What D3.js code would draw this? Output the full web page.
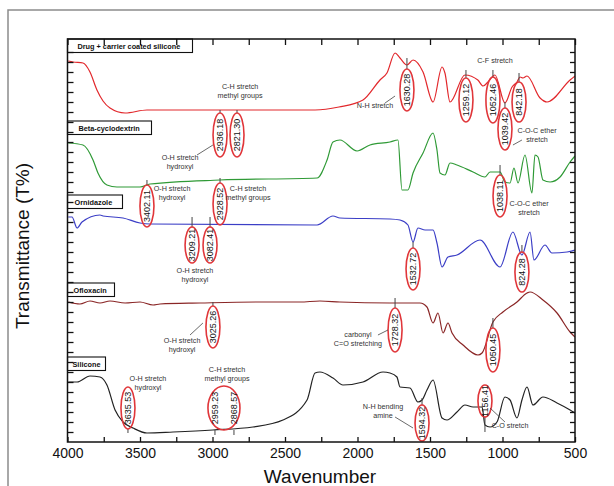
<!DOCTYPE html>
<html>
<head>
<meta charset="utf-8">
<script src="https://cdn.jsdelivr.net/npm/d3@7"></script>
<style>
  body { margin: 0; background: #fff; }
  svg { display: block; font-family: "Liberation Sans", Arial, sans-serif; }
</style>
</head>
<body>
<div id="chart"></div>
<script>
// Spectra: [wavenumber, offset transmittance]
const drugCarrier = [[3995,38.1],[3962,38.0],[3893,37.9],[3845,37.0],[3797,35.2],[3755,34.1],[3707,33.4],[3603,32.9],[3452,33.2],[2293,33.2],[2128,33.5],[1962,34.2],[1845,36.2],[1797,36.9],[1741,38.9],[1707,38.4],[1659,37.7],[1617,38.2],[1548,37.0],[1479,34.0],[1417,37.5],[1397,36.9],[1362,34.0],[1259,36.7],[1170,36.2],[1134,35.6],[1100,36.0],[1052,36.7],[983,33.9],[934,35.5],[900,36.0],[879,36.5],[859,36.4],[831,36.6],[741,34.4],[693,34.0],[534,36.2],[500,36.6]];
const betaCyclodextrin = [[3995,29.9],[3893,29.7],[3824,28.2],[3790,26.9],[3728,25.7],[3659,25.5],[3500,25.5],[3431,25.8],[2948,26.2],[2279,26.4],[2210,28.2],[2169,30.0],[2121,30.2],[2003,29.1],[1914,29.7],[1776,30.0],[1721,30.2],[1693,25.2],[1652,25.2],[1617,26.9],[1548,28.9],[1479,30.9],[1452,29.2],[1431,26.9],[1397,26.7],[1362,27.9],[1314,27.7],[1203,27.0],[1121,26.5],[1086,27.0],[1017,27.0],[983,26.0],[948,25.9],[921,27.4],[893,25.9],[845,28.7],[797,24.9],[776,28.7],[755,28.5],[721,26.2],[672,26.0],[603,26.5],[534,28.0],[500,28.6]];
const ornidazole = [[3995,22.5],[3969,22.5],[3934,21.4],[3900,22.0],[3776,22.7],[3755,22.6],[3617,22.4],[3500,21.9],[3431,21.8],[2279,21.7],[2169,22.6],[2121,22.4],[1776,22.3],[1707,22.2],[1652,21.7],[1617,20.0],[1583,21.4],[1534,21.2],[1479,21.2],[1452,19.9],[1417,17.5],[1376,18.5],[1314,18.7],[1155,20.2],[1017,17.5],[928,21.0],[866,18.7],[810,21.0],[783,18.2],[707,19.7],[659,18.9],[555,19.0],[500,19.2]];
const ofloxacin = [[3995,14.0],[3914,13.8],[3845,14.1],[3776,13.9],[3707,14.1],[3603,13.9],[3500,14.0],[3410,13.7],[3362,13.8],[3086,13.9],[2672,14.0],[2397,14.0],[2259,14.1],[2121,14.0],[1776,13.9],[1741,13.9],[1569,13.9],[1521,13.5],[1479,11.9],[1445,12.9],[1410,10.9],[1376,11.9],[1348,10.9],[1272,9.7],[1169,8.7],[1141,8.9],[1066,12.0],[997,13.0],[900,14.0],[831,14.9],[810,15.0],[721,14.2],[624,12.9],[534,11.0],[500,10.5]];
const silicone = [[3995,6.0],[3934,6.0],[3845,6.6],[3776,6.5],[3728,5.7],[3672,3.2],[3617,2.0],[3548,1.4],[3452,0.9],[3272,1.0],[2997,1.2],[2721,1.5],[2514,2.2],[2348,4.2],[2293,6.9],[2259,7.0],[2169,6.4],[2100,5.7],[1962,6.0],[1824,7.0],[1776,6.9],[1728,6.5],[1707,5.5],[1638,5.4],[1583,4.0],[1555,4.2],[1521,5.2],[1479,6.2],[1417,2.4],[1383,2.2],[1314,3.0],[1259,3.7],[1203,3.5],[1141,3.5],[1121,1.7],[1086,1.5],[1038,2.0],[983,4.5],[948,4.2],[900,2.4],[866,4.2],[831,5.5],[790,3.7],[721,4.5],[624,3.9],[534,3.2],[500,2.9]];

const seriesNames = ['Drug + carrier coated silicone', 'Beta-cyclodextrin', 'Ornidazole', 'Ofloxacin', 'Silicone'];
const xTickLabels = [4000, 3500, 3000, 2500, 2000, 1500, 1000, 500];

// Peak labels (text, wavenumber position, centre, tick from curve)
const peakLabels = [
  ['2936.18', 2948, 30.7, 22, 33.2, 32.9],
  ['2821.30', 2831, 30.7, 22, 33.2, 32.9],
  ['1630.28', 1659, 35.2, 21, 38.4, 37.3],
  ['1259.12', 1252, 34.2, 22, 37.2, 36.4],
  ['1052.46', 1066, 34.2, 23, 37.2, 36.5],
  ['1039.42', 983, 31.3, 21, 34.0, 33.4],
  ['842.18', 886, 34.0, 20, 36.9, 36.0],
  ['3402.11', 3452, 23.6, 21, 26.2, 25.7],
  ['2928.52', 2948, 23.8, 21, 26.4, 25.9],
  ['1038.11', 1017, 24.6, 21, 27.7, 26.7],
  ['3209.21', 3141, 19.7, 18, 22.5, 21.5],
  ['3082.41', 3017, 19.7, 18, 22.5, 21.5],
  ['1532.72', 1617, 17.3, 21, 20.0, 19.4],
  ['824.28', 866, 17.0, 20, 19.7, 19.0],
  ['3025.26', 2997, 11.5, 21, 14.0, 13.6],
  ['1728.32', 1741, 11.2, 22, 14.4, 13.4],
  ['1050.45', 1066, 9.2, 22, 12.4, 11.4],
  ['3635.53', 3583, 3.4, 21, 0.9, 1.3],
  ['1594.32', 1555, 1.9, 18, 4.4, 3.7],
  ['1156.41', 1121, 4.1, 16, 1.0, 2.5]
];

// Band descriptions
const bandNotes = [
  [['C-H stretch', 'methyl groups'], 2810, 35.3],
  [['O-H stretch', 'hydroxyl'], 3224, 28.2],
  [['N-H stretch'], 1879, 33.4],
  [['C-F stretch'], 1052, 37.9],
  [['C-O-C ether', 'stretch'], 762, 30.9],
  [['O-H stretch', 'hydroxyl'], 3279, 25.1],
  [['C-H stretch', 'methyl groups'], 2755, 25.1],
  [['C-O-C ether', 'stretch'], 817, 23.6],
  [['O-H stretch', 'hydroxyl'], 3121, 16.9],
  [['O-H stretch', 'hydroxyl'], 3210, 9.9],
  [['carbonyl', 'C=O stretching'], 1997, 10.5],
  [['O-H stretch', 'hydroxyl'], 3445, 6.1],
  [['C-H stretch', 'methyl groups'], 2900, 7.0],
  [['N-H bending', 'amine'], 1824, 3.3],
  [['C-O stretch'], 948, 1.4]
];
const leaders = [
  [3107, 28.7, 2997, 29.7], [1810, 33.9, 1741, 34.6], [928, 29.7, 866, 30.2],
  [3155, 10.7, 3066, 11.9], [1859, 10.7, 1790, 11.2], [1741, 2.5, 1617, 1.4],
  [1086, 3.4, 983, 2.0]
];

const W = 614, H = 486;
const colors = ['#e2282c', '#2f9a36', '#3b3ec6', '#8a2626', '#222222'];
const boxTop = [40.3, 32.1, 24.7, 15.9, 8.5];
const boxWidth = [125, 84, 55, 47, 38];
const boxPad = [10, 11, 7, 6, 5];

const svg = d3.select('#chart').append('svg')
  .attr('width', W).attr('height', H);

// outer frame
svg.append('path')
  .attr('d', 'M8,486V10H614')
  .attr('fill', 'none').attr('stroke', '#8c8c8c').attr('stroke-width', 1.5);

const xScale = d3.scaleLinear().domain([4000, 500]).range([67.5, 575]);
const yScale = d3.scaleLinear().domain([0, 40.3]).range([442, 39]);

svg.append('defs').append('clipPath').attr('id', 'plot')
  .append('rect').attr('x', 67.5).attr('y', 39).attr('width', 507.5).attr('height', 403);

// Spectra
const line = d3.line()
  .x(d => xScale(d[0]))
  .y(d => yScale(d[1]))
  .curve(d3.curveMonotoneX);

const spectra = [drugCarrier, betaCyclodextrin, ornidazole, ofloxacin, silicone];
svg.append('g').attr('clip-path', 'url(#plot)')
  .selectAll('path').data(spectra).enter().append('path')
  .attr('d', line)
  .attr('fill', 'none')
  .attr('stroke', (d, i) => colors[i])
  .attr('stroke-width', 1.2);

// Annotations
const ann = svg.append('g').attr('clip-path', 'url(#plot)');

ann.selectAll('.tick-line').data(peakLabels).enter().append('line')
  .attr('x1', d => xScale(d[1])).attr('x2', d => xScale(d[1]))
  .attr('y1', d => yScale(d[4])).attr('y2', d => yScale(d[5]))
  .attr('stroke', '#444').attr('stroke-width', 1);

// grouped ellipse for the two silicone C-H peaks
ann.append('ellipse')
  .attr('cx', xScale(2921)).attr('cy', yScale(3.4))
  .attr('rx', 16).attr('ry', 22)
  .attr('fill', 'none').attr('stroke', '#e0363a').attr('stroke-width', 1.6);
[[2983, '2959.23'], [2852, '2868.57']].forEach(p => {
  ann.append('line')
    .attr('x1', xScale(p[0])).attr('x2', xScale(p[0]))
    .attr('y1', yScale(1.2)).attr('y2', yScale(0.7))
    .attr('stroke', '#444');
  ann.append('text')
    .attr('transform', `translate(${xScale(p[0])},${yScale(3.4)}) rotate(-90)`)
    .attr('text-anchor', 'middle').attr('dy', '0.35em')
    .attr('font-size', 9).attr('fill', '#111')
    .text(p[1]);
});

ann.selectAll('.peak-ell').data(peakLabels).enter().append('ellipse')
  .attr('cx', d => xScale(d[1])).attr('cy', d => yScale(d[2]))
  .attr('rx', 7).attr('ry', d => d[3])
  .attr('fill', 'none').attr('stroke', '#e0363a').attr('stroke-width', 1.6);

ann.selectAll('.peak-txt').data(peakLabels).enter().append('text')
  .attr('transform', d => `translate(${xScale(d[1])},${yScale(d[2])}) rotate(-90)`)
  .attr('text-anchor', 'middle').attr('dy', '0.35em')
  .attr('font-size', 9).attr('fill', '#111')
  .text(d => d[0]);

ann.selectAll('.leader').data(leaders).enter().append('line')
  .attr('x1', d => xScale(d[0])).attr('y1', d => yScale(d[1]))
  .attr('x2', d => xScale(d[2])).attr('y2', d => yScale(d[3]))
  .attr('stroke', '#444').attr('stroke-width', 0.8);

const notes = ann.selectAll('.note').data(bandNotes).enter().append('text')
  .attr('x', d => xScale(d[1])).attr('y', d => yScale(d[2]))
  .attr('text-anchor', 'middle').attr('dy', '0.35em')
  .attr('font-size', 7.2).attr('fill', '#333');
notes.selectAll('tspan').data(d => d[0].map(t => [t, xScale(d[1])])).enter().append('tspan')
  .attr('x', d => d[1])
  .attr('dy', (d, i) => i === 0 ? 0 : 8.6)
  .text(d => d[0]);

// Sample name boxes
const boxes = svg.append('g');
seriesNames.forEach((name, i) => {
  const y0 = yScale(boxTop[i]);
  boxes.append('rect')
    .attr('x', xScale(4000)).attr('y', y0)
    .attr('width', boxWidth[i]).attr('height', 13.5)
    .attr('fill', '#fff').attr('stroke', '#111').attr('stroke-width', 1.1);
  boxes.append('text')
    .attr('x', xScale(4000) + boxPad[i]).attr('y', y0 + 9.5)
    .attr('font-size', 7.3).attr('font-weight', 'bold').attr('fill', '#111')
    .text(name);
});

// Axes
const minorX = d3.range(4000, 499, -250);
const yTicks = d3.range(1, 40, 1);

svg.append('g')
  .attr('transform', 'translate(0,442)')
  .call(d3.axisBottom(xScale).tickValues(minorX).tickSize(-5).tickPadding(6)
    .tickFormat(d => xTickLabels.includes(d) ? d : ''))
  .call(g => g.select('.domain').remove())
  .call(g => g.selectAll('text').attr('font-size', 14).attr('fill', '#111')
    .attr('font-family', '"Liberation Sans", Arial, sans-serif'));

svg.append('g')
  .attr('transform', 'translate(0,39)')
  .call(d3.axisTop(xScale).tickValues(minorX).tickSize(-6).tickFormat(''))
  .call(g => g.select('.domain').remove());

svg.append('g')
  .attr('transform', 'translate(67.5,0)')
  .call(d3.axisLeft(yScale).tickValues(yTicks).tickSize(-6).tickFormat(''))
  .call(g => g.select('.domain').remove());

svg.append('g')
  .attr('transform', 'translate(575,0)')
  .call(d3.axisRight(yScale).tickValues(yTicks).tickSize(-5).tickFormat(''))
  .call(g => g.select('.domain').remove());

svg.selectAll('.tick line').attr('stroke', '#111').attr('stroke-width', 1.3);

svg.append('rect')
  .attr('x', 67.5).attr('y', 39).attr('width', 507.5).attr('height', 403)
  .attr('fill', 'none').attr('stroke', '#111').attr('stroke-width', 1.5);

// Axis titles
svg.append('text')
  .attr('x', 320).attr('y', 483)
  .attr('text-anchor', 'middle').attr('font-size', 19).attr('fill', '#111')
  .text('Wavenumber');

svg.append('text')
  .attr('transform', 'translate(29,246) rotate(-90)')
  .attr('text-anchor', 'middle').attr('font-size', 19).attr('fill', '#111')
  .text('Transmittance (T%)');
</script>
</body>
</html>
